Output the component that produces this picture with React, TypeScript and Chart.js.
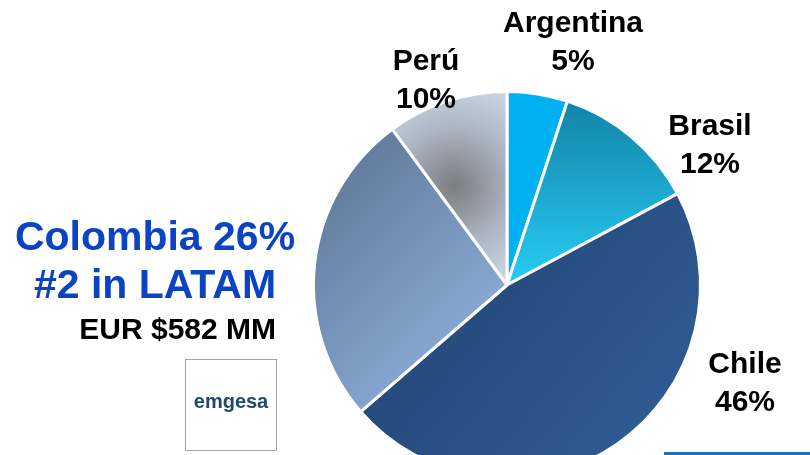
import React, { useEffect, useRef } from "react";
import { Chart, registerables } from "chart.js";

Chart.register(...registerables);

const categories = ["Argentina", "Brasil", "Chile", "Colombia", "Perú"];
const shares = [5, 12, 46, 26, 10];
const shareLabels = ["5%", "12%", "46%", "26%", "10%"];

// label anchor offsets from pie center (layout only), null = no outside label
const labelOffsets: (null | [number, number])[] = [
  [66, -253],
  [203, -150],
  [238, 88],
  null,
  [-81, -215],
];

const W = 810;
const H = 455;

function makeBg(ctx: any) {
  const chart = ctx.chart;
  const area = chart.chartArea;
  const i = ctx.dataIndex;
  const fallback = ["#00B0F0", "#1BA8D4", "#284F82", "#7290B8", "#B8C4D2"][i];
  if (!area) return fallback;
  const c = chart.ctx as CanvasRenderingContext2D;
  const cx = (area.left + area.right) / 2;
  const cy = (area.top + area.bottom) / 2;
  const r = Math.min(area.right - area.left, area.bottom - area.top) / 2;
  if (i === 0) return "#00B0F0";
  if (i === 1) {
    const g = c.createLinearGradient(cx, cy - r * 0.95, cx, cy);
    g.addColorStop(0, "#1283A8");
    g.addColorStop(1, "#28CCF4");
    return g;
  }
  if (i === 2) {
    const g = c.createLinearGradient(cx - r * 0.6, cy, cx + r * 0.6, cy + r);
    g.addColorStop(0, "#244676");
    g.addColorStop(1, "#2F5C94");
    return g;
  }
  if (i === 3) {
    const g = c.createLinearGradient(cx - r * 0.9, cy - r * 0.7, cx - r * 0.1, cy + r * 0.1);
    g.addColorStop(0, "#5F7796");
    g.addColorStop(1, "#86A7D1");
    return g;
  }
  const g = c.createRadialGradient(cx - r * 0.27, cy - r * 0.51, 0, cx - r * 0.27, cy - r * 0.51, r * 0.62);
  g.addColorStop(0, "#7B7C7F");
  g.addColorStop(0.5, "#AEB8C5");
  g.addColorStop(1, "#D5E1ED");
  return g;
}

const labelPlugin = {
  id: "outsideLabels",
  afterDraw(chart: any) {
    const c = chart.ctx as CanvasRenderingContext2D;
    const meta = chart.getDatasetMeta(0);
    const arc = meta.data[0];
    if (!arc) return;
    const cx = arc.x;
    const cy = arc.y;
    c.save();
    c.fillStyle = "#000000";
    c.textAlign = "center";
    c.textBaseline = "alphabetic";
    c.font = "bold 30px 'Liberation Sans', Arial, sans-serif";
    categories.forEach((name, i) => {
      const off = labelOffsets[i];
      if (!off) return;
      const x = cx + off[0];
      const y = cy + off[1];
      c.fillText(name, x, y);
      c.fillText(shareLabels[i], x, y + 38);
    });

    // left annotation
    c.fillStyle = "#0B43C3";
    c.font = "bold 41px 'Liberation Sans', Arial, sans-serif";
    c.textAlign = "center";
    c.fillText(categories[3] + " " + shareLabels[3], 155, 250);
    c.fillText("#2 in LATAM", 155, 298);
    c.fillStyle = "#000000";
    c.font = "bold 30px 'Liberation Sans', Arial, sans-serif";
    c.textAlign = "right";
    c.fillText("EUR $582 MM", 276, 339);

    // logo box
    c.fillStyle = "#FFFFFF";
    c.fillRect(185, 359, 92, 92);
    c.strokeStyle = "#A3A3A3";
    c.lineWidth = 1;
    c.strokeRect(185.5, 359.5, 91, 91);
    c.fillStyle = "#1E486C";
    c.font = "bold 20px 'Liberation Sans', Arial, sans-serif";
    c.textAlign = "center";
    c.fillText("emgesa", 231, 408);

    // bottom rule
    c.fillStyle = "#1F6FC0";
    c.fillRect(664, 452, 146, 3);
    c.restore();
  },
};

export default function App() {
  const ref = useRef<HTMLCanvasElement | null>(null);
  useEffect(() => {
    document.body.style.margin = "0";
    const canvas = ref.current;
    if (!canvas) return;
    const chart = new Chart(canvas, {
      type: "pie",
      data: {
        labels: categories,
        datasets: [
          {
            data: shares,
            backgroundColor: makeBg as any,
            borderColor: "#FFFFFF",
            borderWidth: 3,
          },
        ],
      },
      options: {
        responsive: false,
        animation: false,
        devicePixelRatio: 1,
        layout: { padding: { left: 312, right: 108, top: 90, bottom: 20 } },
        plugins: {
          legend: { display: false },
          tooltip: { enabled: false },
        },
      },
      plugins: [labelPlugin],
    });
    return () => chart.destroy();
  }, []);
  return (
    <div style={{ position: "fixed", left: 0, top: 0, width: W, height: H, overflow: "hidden", background: "#fff" }}>
      <canvas ref={ref} width={W} height={500} style={{ display: "block" }} />
    </div>
  );
}
